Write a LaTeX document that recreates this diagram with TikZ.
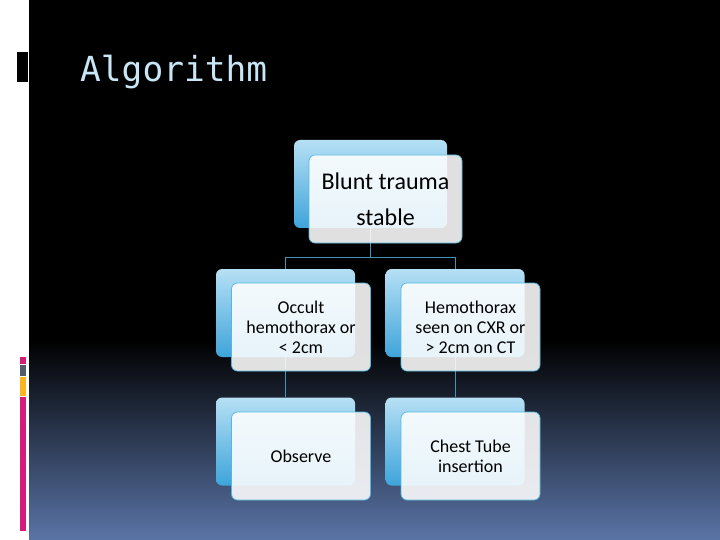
\documentclass[tikz,border=0pt]{standalone}
\usepackage{fontspec}
\setmainfont{Carlito}
\newfontfamily\titlefont{DejaVu Sans Mono}
\usetikzlibrary{positioning}

\definecolor{slidebot}{RGB}{90,116,166}
\definecolor{titleblue}{RGB}{200,230,246}
\definecolor{backtop}{RGB}{182,224,245}
\definecolor{backbot}{RGB}{62,164,218}
\definecolor{frontedge}{RGB}{84,184,222}
\definecolor{barpink}{RGB}{214,28,122}
\definecolor{bargray}{RGB}{82,92,108}
\definecolor{barorange}{RGB}{250,182,32}

\begin{document}
\begin{tikzpicture}[x=1pt, y=-1pt,
    backbox/.style={rounded corners=6pt, top color=backtop, bottom color=backbot,
      draw=none, inner sep=0pt},
    frontbox/.style={rounded corners=6pt, fill=white, fill opacity=0.88,
      text opacity=1, draw=frontedge, line width=0.7pt, align=center,
      inner sep=0pt, text=black},
    toptext/.style={font=\fontsize{24}{36}\selectfont},
    boxtext/.style={font=\fontsize{18}{20}\selectfont},
    link/.style={draw=frontedge!80!black, line width=0.6pt}
  ]
  % slide background
  \useasboundingbox (0,0) rectangle (720,540);
  \fill[white] (0,0) rectangle (29,540);
  \fill[black] (29,0) rectangle (720,341);
  \shade[top color=black, bottom color=slidebot] (29,340) rectangle (720,540);
  \fill[black] (17,52) rectangle (28,82);
  \fill[barpink] (20,357) rectangle (26,364);
  \fill[bargray] (20,365) rectangle (26,376);
  \fill[barorange] (20,377) rectangle (26,396);
  \fill[barpink] (20,397) rectangle (26,531);

  \node[anchor=base west, text=titleblue, inner sep=0pt,
        font=\titlefont\fontsize{34.5}{40}\selectfont] (title) at (80,82) {Algorithm};

  % back boxes
  \node[backbox, minimum width=153pt, minimum height=88pt] (topback) at (370.5,184) {};
  \node[backbox, minimum width=139pt, minimum height=88pt] (occback) at (285.5,313) {};
  \node[backbox, minimum width=139pt, minimum height=88pt] (hemoback) at (455,313) {};
  \node[backbox, minimum width=139pt, minimum height=88pt] (obsback) at (285.5,441.5) {};
  \node[backbox, minimum width=139pt, minimum height=88pt] (tubeback) at (455,441.5) {};

  % connectors
  \coordinate (split) at (370.5,257);
  \draw[link] (topback.south) -- (split) -| (occback.north);
  \draw[link] (split) -| (hemoback.north);
  \draw[link] (occback.south) -- (obsback.north);
  \draw[link] (hemoback.south) -- (tubeback.north);

  % front boxes
  \node[frontbox, toptext, minimum width=153pt, minimum height=88pt]
    (top) at ([shift={(15,15)}]topback.center) {Blunt trauma\\stable};
  \node[frontbox, boxtext, minimum width=139pt, minimum height=88pt]
    (occ) at ([shift={(15.5,14)}]occback.center) {Occult\\hemothorax or\\\textless{} 2cm};
  \node[frontbox, boxtext, minimum width=139pt, minimum height=88pt]
    (hemo) at ([shift={(15.5,14)}]hemoback.center) {Hemothorax\\seen on CXR or\\\textgreater{} 2cm on CT};
  \node[frontbox, boxtext, minimum width=139pt, minimum height=88pt]
    (obs) at ([shift={(15.5,14.5)}]obsback.center) {Observe};
  \node[frontbox, boxtext, minimum width=139pt, minimum height=88pt]
    (tube) at ([shift={(15.5,14.5)}]tubeback.center) {Chest Tube\\insertion};
\end{tikzpicture}
\end{document}
